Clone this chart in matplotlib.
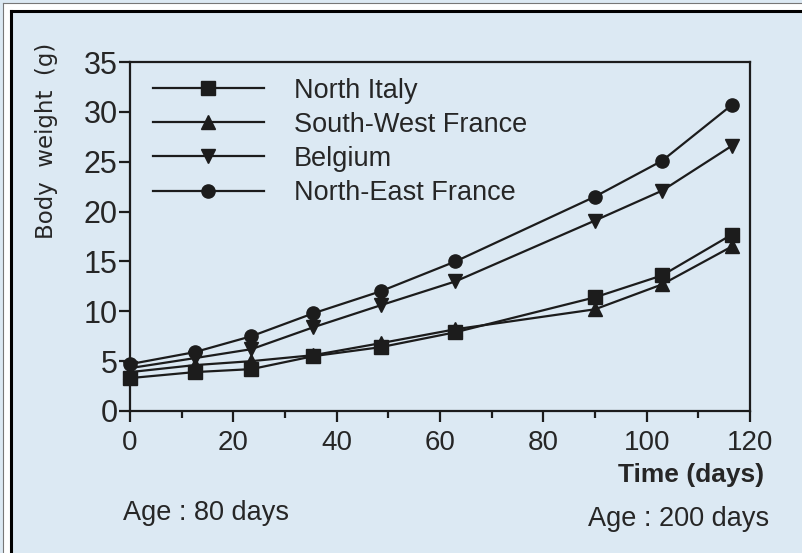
import matplotlib
matplotlib.use("Agg")
import matplotlib.pyplot as plt
from matplotlib.lines import Line2D
from matplotlib.patches import Rectangle
from matplotlib.ticker import MultipleLocator

days = [0, 12.5, 23.5, 35.5, 48.5, 63, 90, 103, 116.5]
north_italy = [3.3, 3.9, 4.2, 5.5, 6.4, 7.9, 11.4, 13.6, 17.7]
sw_france = [3.9, 4.6, 5.0, 5.6, 6.8, 8.2, 10.2, 12.7, 16.5]
belgium = [4.3, 5.3, 6.2, 8.4, 10.6, 13.0, 19.1, 22.1, 26.6]
ne_france = [4.7, 5.9, 7.5, 9.8, 12.0, 15.0, 21.5, 25.1, 30.7]
series_names = ["North Italy", "South-West France", "Belgium", "North-East France"]
x_ticks = [0, 20, 40, 60, 80, 100, 120]
y_ticks = [0, 5, 10, 15, 20, 25, 30, 35]

BG = "#dce9f3"
INK = "#1c1c1c"
TXT = "#262626"
font = ["Liberation Sans", "DejaVu Sans"]

fig = plt.figure(figsize=(8.03, 5.53), dpi=100)
fig.patch.set_facecolor(BG)

# frame (top and left edges only, as in the cropped reference)
fig.add_artist(Rectangle((4 / 803, 0), 6 / 803, 1 - 4 / 553, transform=fig.transFigure, color="white", zorder=0))
fig.add_artist(Rectangle((4 / 803, 1 - 10 / 553), 1, 6 / 553, transform=fig.transFigure, color="white", zorder=0))
fig.add_artist(Line2D([11 / 803, 1], [1 - 11 / 553, 1 - 11 / 553], transform=fig.transFigure, color="black", lw=2.2))
fig.add_artist(Line2D([11 / 803, 11 / 803], [0, 1 - 11 / 553], transform=fig.transFigure, color="black", lw=2.2))
fig.add_artist(Line2D([3 / 803, 1], [1 - 3 / 553, 1 - 3 / 553], transform=fig.transFigure, color="#777777", lw=0.8))
fig.add_artist(Line2D([3 / 803, 3 / 803], [0, 1 - 3 / 553], transform=fig.transFigure, color="#777777", lw=0.8))

ax = fig.add_axes([130 / 803, 1 - 411 / 553, 620 / 803, 349 / 553])
ax.set_facecolor(BG)

markers = ["s", "^", "v", "o"]
data = [north_italy, sw_france, belgium, ne_france]
for vals, m, name in zip(data, markers, series_names):
    ax.plot(days, vals, marker=m, color=INK, lw=1.6, markersize=9.5, label=name, clip_on=False)

ax.set_xlim(0, 120)
ax.set_ylim(0, 35)
ax.set_xticks(x_ticks)
ax.set_yticks(y_ticks)
ax.xaxis.set_minor_locator(MultipleLocator(10))
for s in ax.spines.values():
    s.set_linewidth(1.6)
    s.set_color(INK)
ax.tick_params(axis="both", which="major", direction="out", length=8, width=1.6, color=INK,
               labelcolor=TXT)
ax.tick_params(axis="x", which="major", pad=6)
ax.tick_params(axis="y", which="major", pad=1)
ax.tick_params(axis="x", which="minor", direction="out", length=5, width=1.6, color=INK)
ax.tick_params(axis="y", which="minor", length=0)
for lab in ax.get_xticklabels():
    lab.set_family(font)
    lab.set_fontsize(20)
for lab in ax.get_yticklabels():
    lab.set_family(font)
    lab.set_fontsize(22)

leg = ax.legend(loc="upper left", bbox_to_anchor=(0.037, 0.955), frameon=False,
                prop={"family": font, "size": 19.5}, handlelength=4.1, handletextpad=1.1,
                labelspacing=0.3, borderpad=0, borderaxespad=0)
for t in leg.get_texts():
    t.set_color(TXT)

fig.text(47 / 803, 1 - 141 / 553, "Body  weight  (g)", rotation=90, ha="center", va="center",
         family=["DejaVu Sans"], fontsize=16.5, color=TXT)
fig.text(764 / 803, 1 - 475 / 553, "Time (days)", ha="right", va="center",
         family=font, fontsize=19, fontweight="bold", color=TXT)
fig.text(123 / 803, 1 - 513 / 553, "Age : 80 days", ha="left", va="center",
         family=font, fontsize=19.5, color=TXT)
fig.text(588 / 803, 1 - 519 / 553, "Age : 200 days", ha="left", va="center",
         family=font, fontsize=19.5, color=TXT)

fig.savefig("out.png", dpi=100, facecolor=BG)
